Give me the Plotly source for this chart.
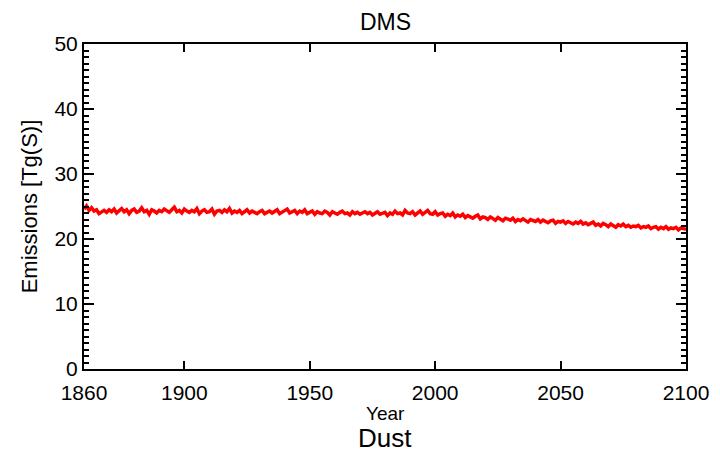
import plotly.graph_objects as go

years = list(range(1860, 2101))

dms_emissions = [
    24.6, 25.1, 24.4, 24.8, 24.3, 24.5, 23.9, 24.2, 24.4, 24.1,
    24.5, 24.2, 24.6, 24.0, 24.3, 24.7, 24.2, 24.5, 23.9, 24.4,
    24.6, 24.1, 24.3, 24.8, 24.2, 24.4, 23.8, 24.5, 24.3, 24.0,
    24.4, 24.2, 24.6, 24.3, 24.1, 24.5, 24.9, 24.2, 24.4, 24.0,
    24.6, 24.3, 24.1, 24.4, 24.2, 24.7, 23.9, 24.3, 24.5, 24.1,
    24.2, 24.6, 23.8, 24.3, 24.4, 24.1, 24.5, 24.2, 24.7, 24.0,
    24.3, 24.1, 24.4, 23.9, 24.2, 24.5, 24.0, 24.3, 24.1, 23.9,
    24.2, 24.4, 23.9, 24.1, 24.3, 24.0, 24.2, 24.5, 23.9, 24.1,
    24.3, 24.6, 24.0, 24.2, 24.4, 23.9, 24.3, 24.1, 24.5, 23.9,
    24.1, 24.3, 23.8, 24.2, 24.0, 23.9, 24.3, 24.1, 23.7, 24.2,
    24.0, 23.8, 24.1, 24.3, 23.9, 24.0, 23.7, 24.2, 23.9, 24.1,
    23.8, 24.0, 24.2, 23.9, 24.1, 23.7, 24.0, 24.2, 23.8, 23.9,
    24.1, 23.6, 24.0, 23.8, 24.3, 23.9, 24.0, 23.7, 24.4, 24.0,
    23.9, 24.2, 23.7, 24.0, 24.3, 23.8, 24.1, 24.4, 23.9, 23.8,
    24.2, 23.7, 23.9, 24.0, 23.5, 23.8, 23.6, 24.0, 23.4, 23.7,
    23.5, 23.8, 23.3, 23.6, 23.4, 23.2, 23.5, 23.7, 23.1, 23.4,
    23.3, 23.0, 23.4, 23.2, 22.9, 23.3, 23.1, 22.8, 23.2, 23.0,
    22.9, 23.2, 22.7, 23.0, 22.8, 23.1, 22.9, 22.6, 23.0, 22.8,
    22.7, 23.0, 22.6, 22.9, 22.7, 22.5, 22.8, 22.9, 22.4, 22.7,
    22.6, 22.8, 22.4, 22.7, 22.5, 22.3, 22.6, 22.4, 22.7, 22.3,
    22.5, 22.2, 22.4, 22.6, 22.1, 22.3, 22.0, 22.4, 22.2, 21.9,
    22.3, 22.1, 21.8, 22.2, 22.0, 22.3, 21.9, 22.1, 21.8, 22.0,
    21.9, 22.1, 21.7, 21.9, 21.8, 22.0, 21.6, 21.8, 21.9, 21.5,
    21.8, 21.6, 21.9, 21.5, 21.7, 21.6, 21.8, 21.4, 21.7, 21.6,
    21.5,
]

x_ticks = [1860, 1900, 1950, 2000, 2050, 2100]
y_ticks = [0, 10, 20, 30, 40, 50]

FONT = "Liberation Sans, Arial, sans-serif"

fig = go.Figure()
fig.add_trace(go.Scatter(
    x=years, y=dms_emissions, mode="lines",
    line=dict(color="#ff0000", width=3.5),
    showlegend=False,
))

axis_common = dict(
    showline=True, linecolor="black", linewidth=2, mirror="allticks",
    ticks="inside", tickcolor="black", tickwidth=2,
    showgrid=False, zeroline=False,
    tickfont=dict(family=FONT, size=21, color="black"),
)

fig.update_xaxes(range=[1860, 2100], tickvals=x_ticks, ticklen=8,
                 ticklabelstandoff=4, **axis_common)
fig.update_yaxes(range=[0, 50], tickvals=y_ticks, ticklen=10,
                 minor=dict(dtick=1, ticklen=5, ticks="inside",
                            tickcolor="black", tickwidth=2, showgrid=False),
                 **axis_common)

fig.update_layout(
    width=712, height=445,
    margin=dict(l=76, r=34, t=36, b=84, autoexpand=False),
    paper_bgcolor="white", plot_bgcolor="white",
    annotations=[
        dict(text="DMS", xref="paper", yref="paper", x=0.5, y=1.068,
             xanchor="center", yanchor="middle", showarrow=False,
             font=dict(family=FONT, size=23, color="black")),
        dict(text="Year", xref="paper", yref="paper", x=0.5, y=-0.138,
             xanchor="center", yanchor="middle", showarrow=False,
             font=dict(family=FONT, size=19, color="black")),
        dict(text="Dust", xref="paper", yref="paper", x=0.5, y=-0.212,
             xanchor="center", yanchor="middle", showarrow=False,
             font=dict(family=FONT, size=26, color="black")),
        dict(text="Emissions [Tg(S)]", xref="paper", yref="paper", x=-0.09, y=0.5,
             xanchor="center", yanchor="middle", showarrow=False, textangle=-90,
             font=dict(family=FONT, size=22, color="black")),
    ],
)

fig.write_html("out.html")
